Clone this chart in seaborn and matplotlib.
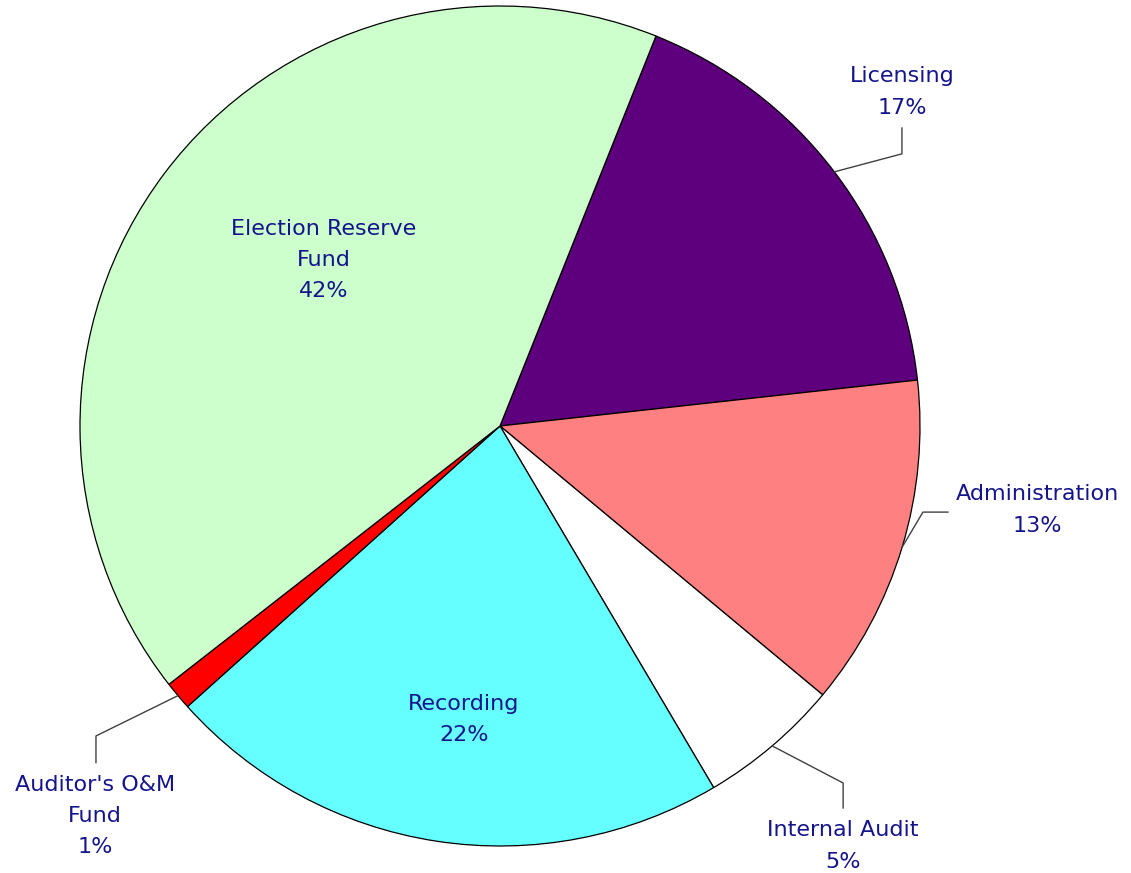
import numpy as np
import matplotlib
matplotlib.use('Agg')
import matplotlib.pyplot as plt
import seaborn as sns

sns.set_theme(style='white')
plt.rcParams['font.family'] = ['DejaVu Sans']

# slice data, clockwise from the Licensing slice
labels = ['Licensing', 'Administration', 'Internal Audit', 'Recording',
          "Auditor's O&M\nFund", 'Election Reserve\nFund']
values = [17.2, 12.8, 5.45, 21.85, 1.1, 41.6]
colors = ['#5E007E', '#FF8080', '#FFFFFF', '#66FFFF', '#FF0000', '#CCFFCC']

text_color = '#14148C'
line_color = '#404040'

fig = plt.figure(figsize=(11.31, 8.73), dpi=100)
ax = fig.add_axes([0, 0, 1, 1])

wedges, _ = ax.pie(values, colors=colors, startangle=68.2, counterclock=False,
                   wedgeprops=dict(edgecolor='black', linewidth=0.9))

total = sum(values)
pct = [f'{v / total * 100:.0f}%' for v in values]

# label placement: (text position, elbow, line end) per slice; None = inside
placement = {
    0: ((0.957, 0.795), (0.957, 0.648), (0.957, 0.710)),
    1: ((1.279, -0.200), (1.007, -0.205), (1.067, -0.205)),
    2: ((0.817, -1.000), (0.817, -0.850), (0.817, -0.910)),
    3: ((-0.086, -0.698), None, None),
    4: ((-0.964, -0.929), (-0.962, -0.738), (-0.962, -0.802)),
    5: ((-0.419, 0.395), None, None),
}

for i, w in enumerate(wedges):
    txt_pos, elbow, end = placement[i]
    ax.text(txt_pos[0], txt_pos[1], f'{labels[i]}\n{pct[i]}', ha='center', va='center',
            color=text_color, fontsize=16, linespacing=1.7)
    if elbow is not None:
        mid = np.deg2rad((w.theta1 + w.theta2) / 2)
        sx, sy = np.cos(mid), np.sin(mid)
        ax.plot([sx, elbow[0], end[0]], [sy, elbow[1], end[1]],
                color=line_color, linewidth=1.0)

ax.set_xlim(-500 / 420, 631 / 420)
ax.set_ylim(-447 / 420, 426 / 420)
ax.set_aspect('auto')
ax.axis('off')

fig.savefig('out.png', dpi=100, facecolor='white')
